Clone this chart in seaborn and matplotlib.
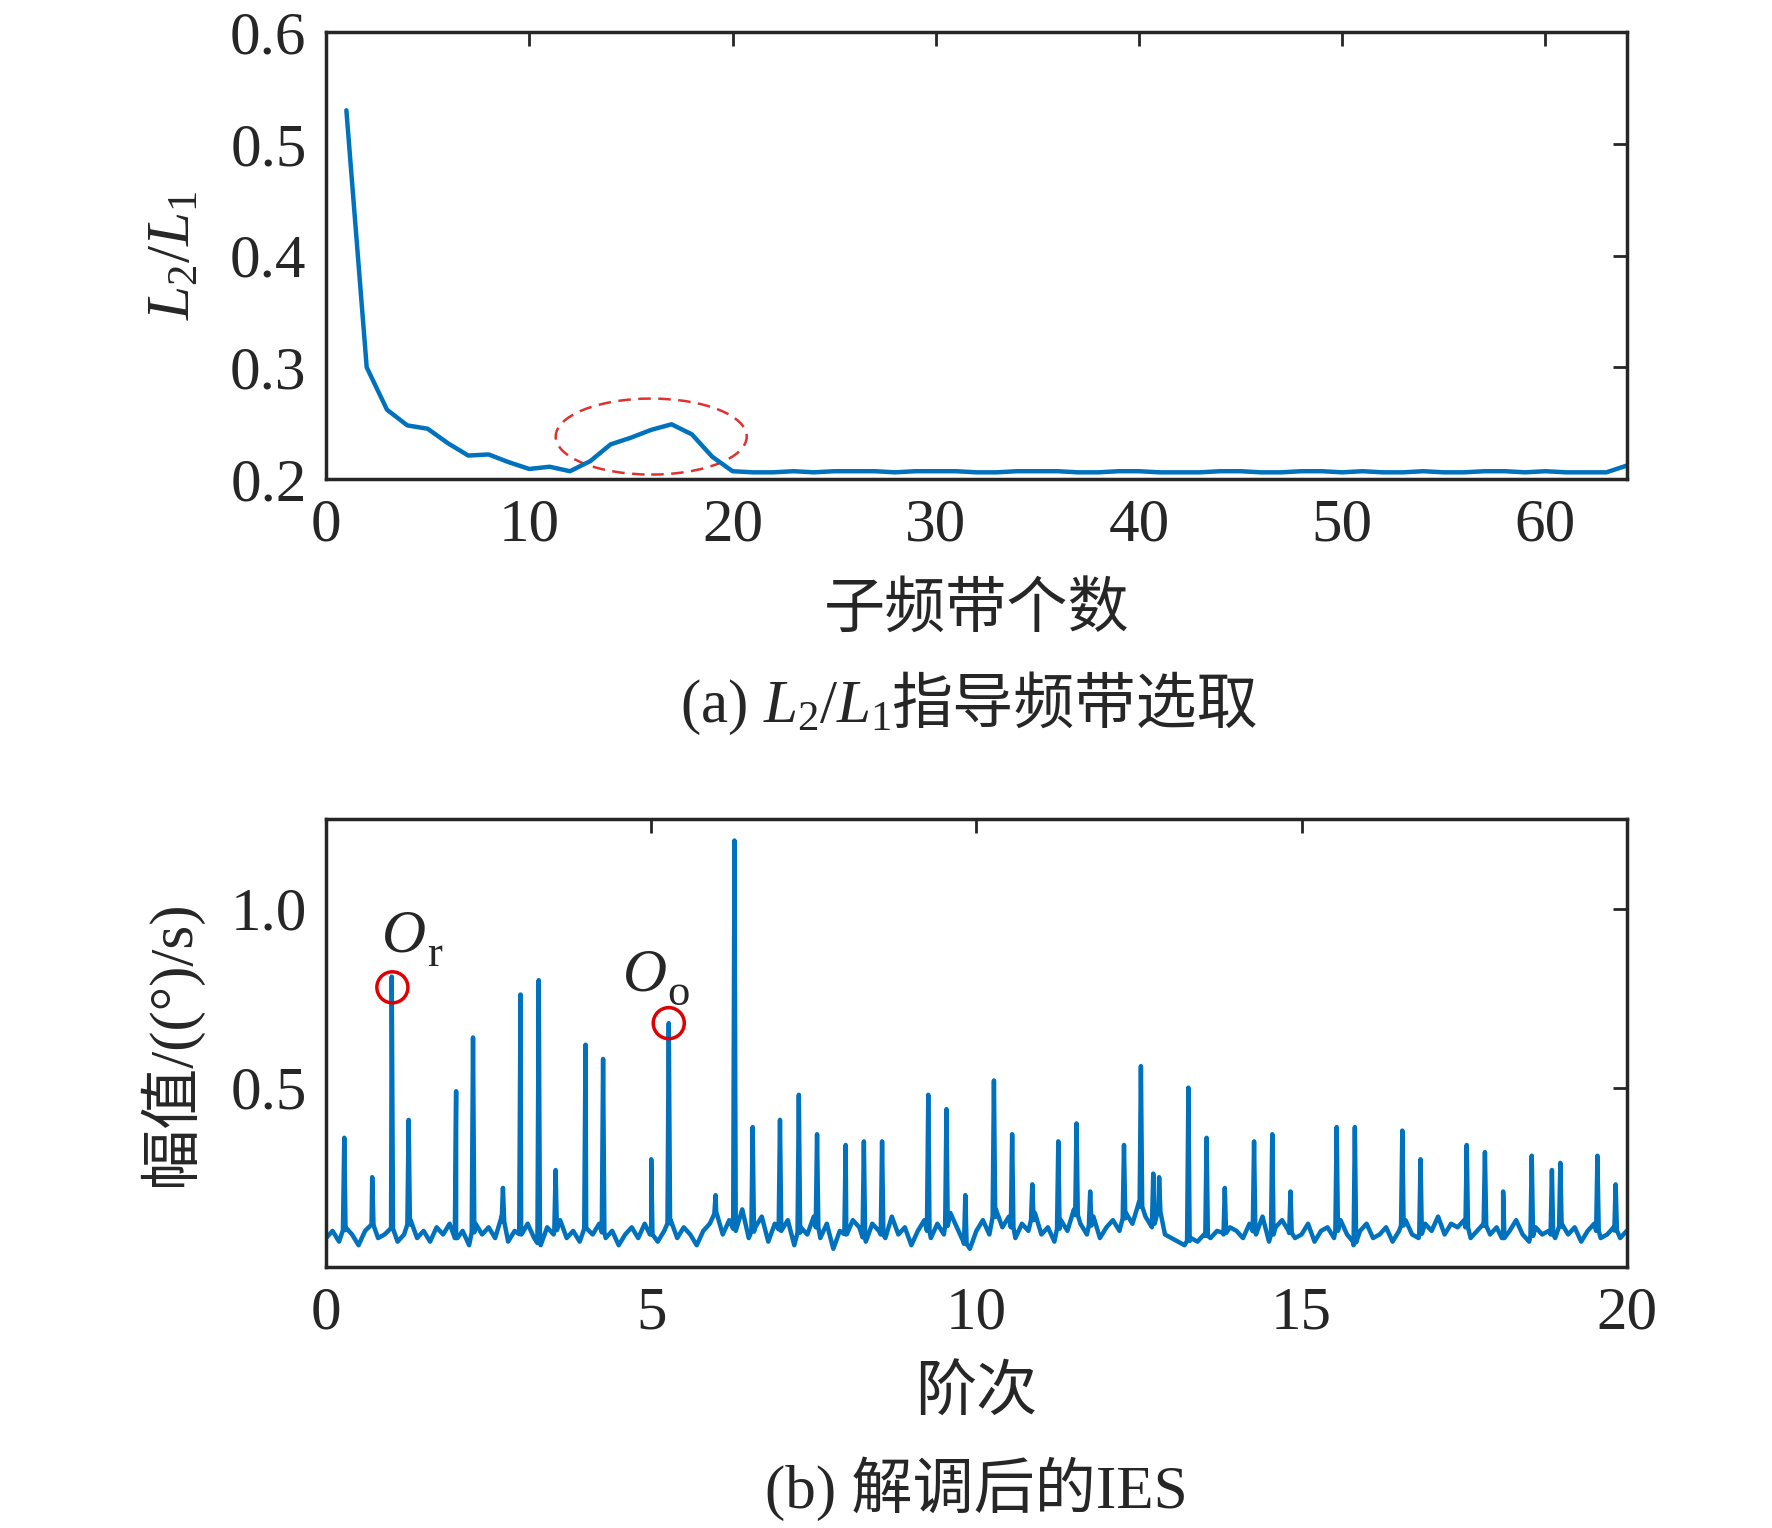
import matplotlib
matplotlib.use("Agg")
import matplotlib.pyplot as plt
from matplotlib.patches import Ellipse
import numpy as np
import pandas as pd
import seaborn as sns

# (a) L2/L1 per number of sub-bands
band_counts = list(range(1, 65))
ratio_vals = [0.530, 0.300, 0.262, 0.248, 0.245, 0.232, 0.221, 0.222, 0.215, 0.209,
              0.211, 0.207, 0.216, 0.231, 0.237, 0.244, 0.249, 0.240, 0.220, 0.207,
              0.206, 0.206, 0.207, 0.206, 0.207, 0.207, 0.207, 0.206, 0.207, 0.207,
              0.207, 0.206, 0.206, 0.207, 0.207, 0.207, 0.206, 0.206, 0.207, 0.207,
              0.206, 0.206, 0.206, 0.207, 0.207, 0.206, 0.206, 0.207, 0.207, 0.206,
              0.207, 0.206, 0.206, 0.207, 0.206, 0.206, 0.207, 0.207, 0.206, 0.207,
              0.206, 0.206, 0.206, 0.212]

# (b) demodulated IES: noise floor every 0.1 order plus spectral lines
floor_vals = [0.08, 0.10, 0.07, 0.11, 0.09, 0.06, 0.10, 0.12, 0.08, 0.09,
              0.11, 0.07, 0.09, 0.13, 0.08, 0.10, 0.07, 0.11, 0.09, 0.12,
              0.08, 0.10, 0.06, 0.12, 0.09, 0.11, 0.08, 0.14, 0.07, 0.10,
              0.09, 0.12, 0.08, 0.06, 0.11, 0.09, 0.13, 0.08, 0.10, 0.07,
              0.11, 0.09, 0.12, 0.08, 0.10, 0.06, 0.09, 0.11, 0.08, 0.12,
              0.09, 0.07, 0.10, 0.13, 0.08, 0.11, 0.09, 0.06, 0.10, 0.12,
              0.15, 0.09, 0.13, 0.10, 0.16, 0.08, 0.11, 0.14, 0.07, 0.12,
              0.10, 0.13, 0.06, 0.11, 0.09, 0.14, 0.08, 0.12, 0.05, 0.10,
              0.09, 0.13, 0.11, 0.07, 0.12, 0.10, 0.08, 0.14, 0.09, 0.11,
              0.06, 0.10, 0.13, 0.08, 0.12, 0.09, 0.15, 0.11, 0.07, 0.05,
              0.10, 0.13, 0.09, 0.16, 0.11, 0.14, 0.08, 0.12, 0.10, 0.15,
              0.09, 0.11, 0.07, 0.13, 0.10, 0.16, 0.12, 0.09, 0.14, 0.08,
              0.11, 0.13, 0.10, 0.15, 0.12, 0.18, 0.14, 0.11, 0.16, 0.09,
              0.08, 0.07, 0.06, 0.08, 0.07, 0.09, 0.08, 0.10, 0.09, 0.11,
              0.10, 0.08, 0.12, 0.09, 0.14, 0.07, 0.11, 0.13, 0.10, 0.08,
              0.09, 0.12, 0.07, 0.10, 0.11, 0.08, 0.13, 0.09, 0.06, 0.10,
              0.12, 0.08, 0.09, 0.11, 0.07, 0.10, 0.13, 0.09, 0.08, 0.12,
              0.10, 0.14, 0.09, 0.12, 0.11, 0.13, 0.08, 0.10, 0.12, 0.09,
              0.11, 0.08, 0.10, 0.13, 0.09, 0.07, 0.11, 0.09, 0.10, 0.08,
              0.12, 0.09, 0.11, 0.07, 0.10, 0.12, 0.08, 0.09, 0.11, 0.08,
              0.10]
line_orders = [0.28, 0.71, 1.01, 1.27, 2.00, 2.26, 2.72, 2.99, 3.27, 3.53,
               3.99, 4.26, 5.00, 5.27, 5.99, 6.28, 6.56, 6.98, 7.27, 7.55,
               7.99, 8.27, 8.55, 9.26, 9.54, 9.83, 10.27, 10.55, 10.86, 11.26,
               11.54, 11.75, 12.27, 12.53, 12.72, 12.81, 13.26, 13.54, 13.82, 14.27,
               14.55, 14.83, 15.54, 15.82, 16.55, 16.83, 17.54, 17.82, 18.10, 18.54,
               18.85, 18.98, 19.55, 19.83]
line_amps = [0.36, 0.25, 0.81, 0.41, 0.49, 0.64, 0.22, 0.76, 0.80, 0.27,
             0.62, 0.58, 0.30, 0.68, 0.20, 1.19, 0.39, 0.41, 0.48, 0.37,
             0.34, 0.35, 0.35, 0.48, 0.44, 0.20, 0.52, 0.37, 0.23, 0.35,
             0.40, 0.21, 0.34, 0.56, 0.26, 0.25, 0.50, 0.36, 0.22, 0.35,
             0.37, 0.21, 0.39, 0.39, 0.38, 0.30, 0.34, 0.32, 0.21, 0.31,
             0.27, 0.29, 0.31, 0.23]
marked_orders = [1.02, 5.27]
marked_amps = [0.78, 0.68]

sns.set_theme(style="white")
plt.rcParams["font.family"] = ["Liberation Serif", "Noto Sans CJK SC"]
plt.rcParams["mathtext.fontset"] = "custom"
plt.rcParams["mathtext.rm"] = "Liberation Serif"
plt.rcParams["mathtext.it"] = "Liberation Serif:italic"
blue = "#0072BD"
fs = 44

fig = plt.figure(figsize=(17.72, 15.28), dpi=100)
ax1 = fig.add_axes([0.184, 0.6865, 0.734, 0.2925])
ax2 = fig.add_axes([0.184, 0.171, 0.734, 0.293])

df_a = pd.DataFrame({"n": band_counts, "r": ratio_vals})
sns.lineplot(data=df_a, x="n", y="r", ax=ax1, color=blue, lw=3.2)
ax1.add_patch(Ellipse((16.0, 0.238), 9.4, 0.068, fill=False, ec="#e03030",
                      ls=(0, (5, 3)), lw=1.8))
ax1.set_xlim(0, 64)
ax1.set_ylim(0.2, 0.6)
ax1.set_xticks([0, 10, 20, 30, 40, 50, 60])
ax1.set_yticks([0.2, 0.3, 0.4, 0.5, 0.6])
ax1.set_xlabel("")
ax1.set_ylabel("$L_2/L_1$", fontsize=fs, labelpad=20)

# build the spectrum from the noise floor and the lines
fx = [i * 0.1 for i in range(len(floor_vals))]
xs, ys = list(fx), list(floor_vals)
for o, a in zip(line_orders, line_amps):
    b = np.interp(o, fx, floor_vals)
    xs += [o - 0.02, o, o + 0.02]
    ys += [b, a, b]
df_b = pd.DataFrame({"o": xs, "a": ys}).sort_values("o")
sns.lineplot(data=df_b, x="o", y="a", ax=ax2, color=blue, lw=3.2, sort=False,
             estimator=None)
ax2.scatter(marked_orders, marked_amps, s=500, facecolors="none",
            edgecolors="#e00000", linewidths=2.5, zorder=5)
ax2.text(0.85, 0.88, "$O$", fontsize=fs)
ax2.text(1.55, 0.84, "r", fontsize=32)
ax2.text(4.55, 0.77, "$O$", fontsize=fs)
ax2.text(5.25, 0.73, "o", fontsize=32)
ax2.set_xlim(0, 20)
ax2.set_ylim(0, 1.25)
ax2.set_xticks([0, 5, 10, 15, 20])
ax2.set_yticks([0.5, 1.0])
ax2.set_yticklabels(["0.5", "1.0"])
ax2.set_xlabel("")
ax2.set_ylabel("幅值/((°)/s)", fontsize=fs, labelpad=20)

for ax in (ax1, ax2):
    ax.tick_params(direction="in", length=10, width=2, labelsize=fs,
                   top=True, right=True, pad=14)
    for sp in ax.spines.values():
        sp.set_linewidth(2.5)
        sp.set_color("#262626")

fig.text(0.551, 0.60, "子频带个数", fontsize=fs, ha="center", va="center")
fig.text(0.503, 0.537, "(a) $L_2/L_1$", fontsize=fs, ha="right", va="center")
fig.text(0.503, 0.537, "指导频带选取", fontsize=fs, ha="left", va="center")
fig.text(0.551, 0.087, "阶次", fontsize=fs, ha="center", va="center")
fig.text(0.551, 0.026, "(b) 解调后的IES", fontsize=fs, ha="center", va="center")

fig.savefig("out.png", dpi=100, facecolor="white")
